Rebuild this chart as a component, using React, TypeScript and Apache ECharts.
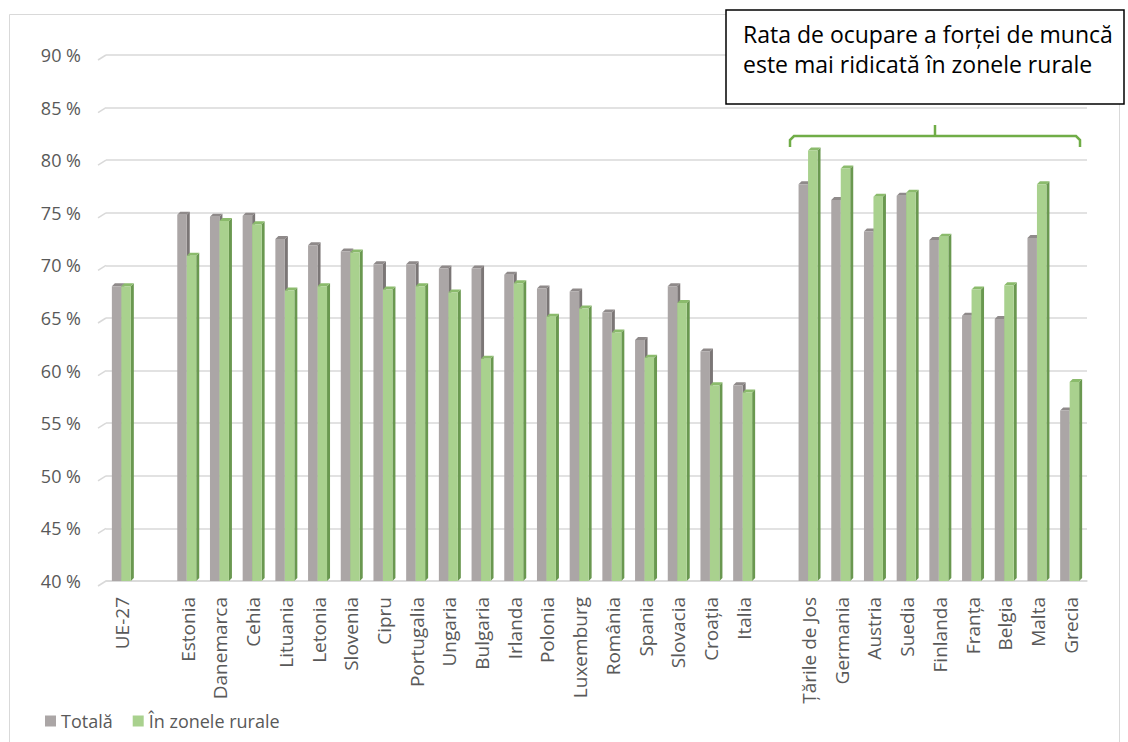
import React, { useEffect, useRef } from "react";
import * as echarts from "echarts";

const categories = [
  "UE-27", "", "Estonia", "Danemarca", "Cehia", "Lituania", "Letonia", "Slovenia", "Cipru",
  "Portugalia", "Ungaria", "Bulgaria", "Irlanda", "Polonia", "Luxemburg", "România", "Spania",
  "Slovacia", "Croația", "Italia", "", "Țările de Jos", "Germania", "Austria", "Suedia",
  "Finlanda", "Franța", "Belgia", "Malta", "Grecia",
];
const totalValues = [
  68.3, null, 75.1, 74.9, 75.0, 72.8, 72.2, 71.6, 70.4,
  70.4, 70.0, 70.0, 69.4, 68.1, 67.8, 65.8, 63.2,
  68.3, 62.1, 58.9, null, 78.0, 76.5, 73.5, 76.9,
  72.7, 65.5, 65.2, 72.9, 56.5,
];
const ruralValues = [
  68.3, null, 71.2, 74.5, 74.2, 67.9, 68.3, 71.5, 68.0,
  68.3, 67.7, 61.4, 68.6, 65.4, 66.2, 63.9, 61.5,
  66.7, 58.9, 58.2, null, 81.2, 79.5, 76.8, 77.2,
  73.0, 68.0, 68.4, 78.0, 59.2,
];
const yTicks = [40, 45, 50, 55, 60, 65, 70, 75, 80, 85, 90];
const seriesNames = ["Totală", "În zonele rurale"];
const annotationLines = ["Rata de ocupare a forței de muncă", "este mai ridicată în zonele rurale"];

const FONT = "'Open Sans', sans-serif";
const TEXT_COLOR = "#595959";

function makeRender(isTotal: boolean, front: string, side: string, top: string) {
  return (params: any, api: any) => {
    const v = api.value(1);
    if (v == null || isNaN(v)) return null;
    const idx = api.value(0);
    const pt = api.coord([idx, v]);
    const pb = api.coord([idx, 40]);
    const band = api.size([1, 0])[0];
    const w = band * 0.29;
    const d = 3;
    const cx = pt[0];
    const x0 = isTotal ? cx - w - 1 : cx - 1;
    const x1 = x0 + w;
    const yf = pt[1] + d;
    const y0 = pb[1];
    return {
      type: "group",
      children: [
        {
          type: "polygon",
          shape: { points: [[x1, yf], [x1 + d, yf - d], [x1 + d, y0 - d], [x1, y0]] },
          style: { fill: side },
        },
        {
          type: "polygon",
          shape: { points: [[x0, yf], [x1, yf], [x1 + d, yf - d], [x0 + d, yf - d]] },
          style: { fill: top },
        },
        {
          type: "rect",
          shape: { x: x0, y: yf, width: w, height: y0 - yf },
          style: { fill: front },
        },
      ],
    };
  };
}

export default function App() {
  const ref = useRef<HTMLDivElement>(null);
  useEffect(() => {
    document.body.style.margin = "0";
    const chart = echarts.init(ref.current!, null, { renderer: "svg" });
    const totalData = categories.map((_, i) => [i, totalValues[i]]);
    const ruralData = categories.map((_, i) => [i, ruralValues[i]]);
    const gridLeft = 106;
    chart.setOption({
      animation: false,
      backgroundColor: "#ffffff",
      textStyle: { fontFamily: FONT },
      grid: { left: gridLeft, right: 41, top: 55, bottom: 161, containLabel: false },
      legend: {
        left: 40,
        top: 707,
        icon: "rect",
        itemWidth: 11,
        itemHeight: 11,
        itemGap: 20,
        textStyle: { fontSize: 18, color: TEXT_COLOR, fontFamily: FONT },
        data: seriesNames,
      },
      xAxis: {
        type: "category",
        data: categories,
        axisLine: { show: true, lineStyle: { color: "#d9d9d9", width: 1.5 } },
        axisTick: { show: false },
        axisLabel: {
          interval: 0,
          rotate: 90,
          margin: 16,
          fontSize: 19,
          color: TEXT_COLOR,
          fontFamily: FONT,
        },
      },
      yAxis: {
        type: "value",
        min: 40,
        max: 90,
        interval: 5,
        axisLine: { show: false },
        axisTick: { show: false },
        axisLabel: {
          margin: 25,
          fontSize: 18,
          color: TEXT_COLOR,
          fontFamily: FONT,
          formatter: (v: number) => `${v} %`,
        },
        splitLine: { lineStyle: { color: "#d9d9d9", width: 1.5 } },
      },
      series: [
        {
          name: seriesNames[0],
          type: "custom",
          itemStyle: { color: "#aba6a6" },
          encode: { x: 0, y: 1 },
          renderItem: makeRender(true, "#aba6a6", "#7b7676", "#8f8a8a"),
          data: totalData,
          z: 2,
        },
        {
          name: seriesNames[1],
          type: "custom",
          itemStyle: { color: "#a9d18e" },
          encode: { x: 0, y: 1 },
          renderItem: makeRender(false, "#a9d18e", "#6a9850", "#8bbb6c"),
          data: ruralData,
          z: 3,
        },
      ],
    });
    const slants = yTicks.map((t) => {
      const y = chart.convertToPixel({ yAxisIndex: 0 }, t) as number;
      return {
        type: "line",
        silent: true,
        shape: { x1: gridLeft - 8, y1: y + 5, x2: gridLeft, y2: y },
        style: { stroke: "#d9d9d9", lineWidth: 1.5 },
      };
    });
    chart.setOption({
      graphic: [
        {
          type: "rect",
          z: -10,
          silent: true,
          shape: { x: 9.5, y: 14.5, width: 1110, height: 740 },
          style: { fill: "none", stroke: "#d9d9d9", lineWidth: 1 },
        },
        ...slants,
        {
          type: "rect",
          z: 100,
          shape: { x: 726, y: 10, width: 398, height: 94 },
          style: { fill: "#ffffff", stroke: "#000000", lineWidth: 1.5 },
        },
        {
          type: "text",
          z: 101,
          x: 743,
          y: 19,
          style: {
            text: annotationLines.join("\n"),
            font: `23px ${FONT}`,
            fill: "#000000",
            lineHeight: 30,
          },
        },
        {
          type: "polyline",
          z: 50,
          shape: { points: [[790, 147], [790, 140], [794, 136], [1076, 136], [1080, 140], [1080, 147]] },
          style: { stroke: "#70ad47", lineWidth: 2.5, fill: "none" },
        },
        {
          type: "line",
          z: 50,
          shape: { x1: 935, y1: 136, x2: 935, y2: 125 },
          style: { stroke: "#70ad47", lineWidth: 2.5 },
        },
      ],
    });
    return () => chart.dispose();
  }, []);
  return <div ref={ref} style={{ width: 1128, height: 742 }} />;
}
